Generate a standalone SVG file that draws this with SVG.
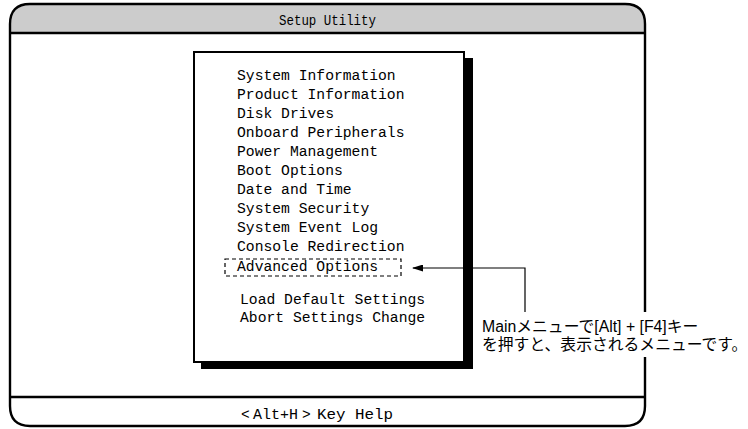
<svg xmlns="http://www.w3.org/2000/svg" width="748" height="429" viewBox="0 0 748 429">
<defs>
<style>
.mono{font-family:"Liberation Mono","DejaVu Sans Mono",monospace;font-size:14.7px;fill:#000}
.cond{font-family:"Liberation Mono","DejaVu Sans Mono",monospace;font-size:14.5px;fill:#000}
.jp{font-family:"Liberation Sans","Noto Sans CJK JP",sans-serif;font-size:15.8px;fill:#000}
.ln{stroke:#000;fill:none}
</style>
<marker id="ah" markerWidth="11" markerHeight="7" refX="10" refY="3.5" orient="auto" markerUnits="userSpaceOnUse">
<path d="M0,0 L11,3.5 L0,7 Z" fill="#000"/>
</marker>
</defs>
<g id="frame">
<path d="M10,33 L10,24 Q10,4 30,4 L625,4 Q645,4 645,24 L645,33 Z" fill="#cccccc"/>
<path d="M10,33 L10,24 Q10,4 30,4 L625,4 Q645,4 645,24 L645,406 Q645,426 625,426 L30,426 Q10,426 10,406 Z" class="ln" stroke-width="2.4"/>
<line x1="10" y1="33" x2="645" y2="33" class="ln" stroke-width="2.4"/>
<line x1="10" y1="397" x2="645" y2="397" class="ln" stroke-width="2.4"/>
<text class="cond" x="279" y="25" textLength="97" lengthAdjust="spacingAndGlyphs">Setup Utility</text>
<text class="cond" y="419"><tspan x="241">&lt;</tspan><tspan x="253" textLength="45" lengthAdjust="spacingAndGlyphs">Alt+H</tspan><tspan x="302">&gt;</tspan><tspan x="317" textLength="76" lengthAdjust="spacingAndGlyphs">Key Help</tspan></text>
</g>
<g id="menu">
<rect x="201" y="58" width="272" height="311" fill="#000"/>
<rect x="194" y="52" width="270" height="310" fill="#fff" stroke="#000" stroke-width="2"/>
<g class="mono">
<text x="237" y="80">System Information</text>
<text x="237" y="99">Product Information</text>
<text x="237" y="118">Disk Drives</text>
<text x="237" y="137">Onboard Peripherals</text>
<text x="237" y="156">Power Management</text>
<text x="237" y="175">Boot Options</text>
<text x="237" y="194">Date and Time</text>
<text x="237" y="213">System Security</text>
<text x="237" y="232">System Event Log</text>
<text x="237" y="251">Console Redirection</text>
<text x="237" y="271">Advanced Options</text>
<text x="240" y="304">Load Default Settings</text>
<text x="240" y="322">Abort Settings Change</text>
</g>
<rect x="225" y="259" width="176" height="17" fill="none" stroke="#000" stroke-width="1.2" stroke-dasharray="4,3"/>
</g>
<g id="connectors">
<polyline points="525,312 525,268 413,268" class="ln" stroke-width="1.2" marker-end="url(#ah)"/>
</g>
<g id="note">
<rect x="480" y="312" width="266" height="45" fill="#fff"/>
<text class="jp" x="482" y="332">Mainメニューで[Alt] + [F4]キー</text>
<text class="jp" x="482" y="350">を押すと、表示されるメニューです。</text>
</g>
</svg>
